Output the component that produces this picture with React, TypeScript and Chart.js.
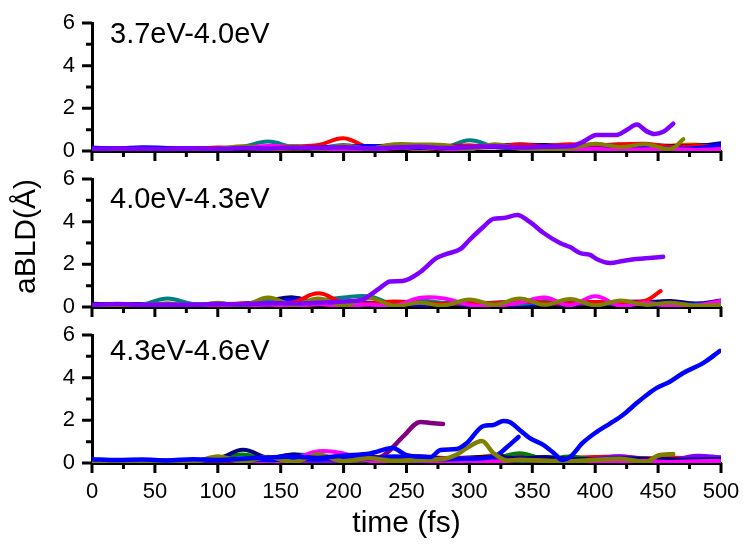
import React, { useEffect, useRef } from 'react';
import { Chart, registerables } from 'chart.js';

Chart.register(...registerables);

const FONT = "'Liberation Sans', Arial, sans-serif";

// ---- axis tick positions ----
const xMarkValues = [0, 25, 50, 75, 100, 125, 150, 175, 200, 225, 250, 275, 300, 325, 350, 375, 400, 425, 450, 475, 500];
const xMajorStep = 50;
const yMarkValues = [0, 1, 2, 3, 4, 5, 6];
const yMajorStep = 2;

// ---- common time grid (fs) ----
const T20 = [0, 20, 40, 60, 80, 100, 120, 140, 160, 180, 200, 220, 240, 260, 280, 300, 320, 340, 360, 380, 400, 420, 440, 460, 480, 500];

// ---- panel 1 : 3.7eV-4.0eV ----
const p1Wine = [0.06, 0.04, 0.08, 0.06, 0.05, 0.08, 0.10, 0.06, 0.12, 0.08, 0.14, 0.10, 0.12, 0.16, 0.10, 0.14, 0.18, 0.12, 0.20, 0.24, 0.30, 0.22, 0.18, 0.20, 0.16, 0.18];
const p1Orange = [0.04, 0.06, 0.05, 0.08, 0.06, 0.10, 0.08, 0.06, 0.10, 0.14, 0.08, 0.12, 0.18, 0.10, 0.16, 0.12, 0.22, 0.14, 0.20, 0.16, 0.24, 0.18, 0.12, 0.26, 0.30, 0.14];
const p1Black = [0.08, 0.10, 0.08, 0.10, 0.09, 0.12, 0.10, 0.14, 0.12, 0.18, 0.12, 0.20, 0.16, 0.22, 0.18, 0.25, 0.20, 0.26, 0.28, 0.22, 0.26, 0.30, 0.22, 0.24, 0.26, 0.30];
const p1Navy = [0.14, 0.12, 0.10, 0.12, 0.14, 0.10, 0.12, 0.18, 0.14, 0.12, 0.16, 0.20, 0.26, 0.18, 0.22, 0.20, 0.24, 0.30, 0.26, 0.22, 0.18, 0.20, 0.28, 0.24, 0.22, 0.36];
const p1Teal = [0.10, 0.12, 0.10, 0.14, 0.10, 0.12, 0.20, 0.44, 0.18, 0.14, 0.28, 0.14, 0.18, 0.24, 0.16, 0.50, 0.20, 0.14, 0.12, 0.16, 0.10, 0.14, 0.12, 0.10, 0.08, 0.10];
const p1Red = [0.12, 0.10, 0.14, 0.12, 0.10, 0.16, 0.14, 0.20, 0.22, 0.28, 0.60, 0.18, 0.28, 0.20, 0.24, 0.26, 0.22, 0.30, 0.24, 0.32, 0.26, 0.30, 0.34, 0.20, 0.24, 0.22];
const p1Blue = [0.16, 0.12, 0.18, 0.14, 0.12, 0.10, 0.14, 0.12, 0.18, 0.16, 0.20, 0.24, 0.20, 0.14, 0.22, 0.18, 0.20, 0.14, 0.22, 0.18, 0.12, 0.14, 0.16, 0.12, 0.14, 0.30];
const p1Magenta = [0.05, 0.08, 0.05, 0.10, 0.12, 0.08, 0.16, 0.24, 0.20, 0.12, 0.08, 0.06, 0.14, 0.24, 0.10, 0.12, 0.24, 0.14, 0.10, 0.06, 0.10, 0.05, 0.08, 0.10, 0.05, 0.08];
const p1OliveT = [0, 20, 40, 60, 80, 100, 120, 140, 160, 180, 200, 220, 240, 260, 280, 300, 320, 340, 360, 380, 400, 420, 440, 460, 470];
const p1Olive = [0.05, 0.06, 0.05, 0.08, 0.06, 0.10, 0.22, 0.10, 0.24, 0.08, 0.26, 0.12, 0.32, 0.30, 0.28, 0.08, 0.32, 0.10, 0.06, 0.12, 0.34, 0.18, 0.32, 0.10, 0.56];
const p1VioletT = [0, 20, 40, 60, 80, 100, 120, 140, 160, 180, 200, 220, 240, 260, 280, 300, 320, 340, 360, 380, 390, 401, 417, 425, 433, 441, 447, 454, 462];
const p1Violet = [0.10, 0.12, 0.10, 0.08, 0.12, 0.10, 0.14, 0.12, 0.16, 0.14, 0.18, 0.12, 0.16, 0.20, 0.14, 0.18, 0.22, 0.16, 0.20, 0.22, 0.42, 0.75, 0.75, 0.98, 1.24, 0.92, 0.80, 0.90, 1.28];

// ---- panel 2 : 4.0eV-4.3eV ----
const p2Purple = [0.05, 0.06, 0.08, 0.06, 0.10, 0.08, 0.12, 0.10, 0.14, 0.12, 0.10, 0.14, 0.16, 0.12, 0.18, 0.14, 0.20, 0.24, 0.16, 0.20, 0.18, 0.24, 0.26, 0.20, 0.14, 0.10];
const p2Orange = [0.04, 0.05, 0.04, 0.06, 0.08, 0.06, 0.10, 0.12, 0.08, 0.14, 0.10, 0.16, 0.12, 0.18, 0.14, 0.20, 0.16, 0.24, 0.18, 0.22, 0.20, 0.18, 0.14, 0.12, 0.10, 0.08];
const p2Black = [0.15, 0.12, 0.14, 0.10, 0.12, 0.10, 0.14, 0.12, 0.16, 0.14, 0.12, 0.16, 0.14, 0.18, 0.16, 0.14, 0.12, 0.16, 0.20, 0.18, 0.22, 0.10, 0.12, 0.20, 0.10, 0.08];
const p2Navy = [0.06, 0.08, 0.06, 0.10, 0.08, 0.12, 0.16, 0.30, 0.45, 0.20, 0.24, 0.20, 0.18, 0.22, 0.16, 0.20, 0.18, 0.14, 0.16, 0.20, 0.12, 0.18, 0.22, 0.28, 0.16, 0.30];
const p2Blue = [0.10, 0.08, 0.12, 0.10, 0.08, 0.14, 0.10, 0.12, 0.35, 0.18, 0.14, 0.16, 0.20, 0.10, 0.14, 0.12, 0.16, 0.10, 0.14, 0.12, 0.18, 0.14, 0.12, 0.10, 0.14, 0.12];
const p2Teal = [0.08, 0.10, 0.12, 0.40, 0.14, 0.16, 0.12, 0.30, 0.16, 0.30, 0.45, 0.50, 0.15, 0.30, 0.18, 0.16, 0.20, 0.14, 0.28, 0.18, 0.22, 0.14, 0.16, 0.12, 0.10, 0.14];
const p2RedT = [0, 20, 40, 60, 80, 100, 120, 140, 160, 180, 200, 220, 240, 260, 280, 300, 320, 340, 360, 380, 400, 420, 440, 452];
const p2Red = [0.06, 0.08, 0.05, 0.10, 0.08, 0.12, 0.16, 0.14, 0.22, 0.64, 0.20, 0.16, 0.26, 0.20, 0.14, 0.22, 0.18, 0.26, 0.20, 0.16, 0.24, 0.18, 0.30, 0.75];
const p2Magenta = [0.04, 0.06, 0.04, 0.08, 0.05, 0.10, 0.06, 0.12, 0.08, 0.14, 0.06, 0.12, 0.05, 0.42, 0.40, 0.10, 0.06, 0.20, 0.44, 0.08, 0.50, 0.06, 0.20, 0.04, 0.06, 0.30];
const p2Olive = [0.02, 0.02, 0.04, 0.18, 0.04, 0.20, 0.06, 0.45, 0.10, 0.40, 0.08, 0.42, 0.06, 0.20, 0.08, 0.35, 0.10, 0.40, 0.10, 0.38, 0.08, 0.30, 0.10, 0.20, 0.06, 0.10];
const p2VioletT = [0, 20, 40, 60, 80, 100, 120, 140, 160, 180, 200, 215, 222, 229, 237, 247, 261, 274, 282, 293, 300, 311, 319, 327, 338, 348, 359, 372, 380, 388, 396, 401, 412, 422, 433, 443, 454];
const p2Violet = [0.10, 0.14, 0.10, 0.12, 0.10, 0.14, 0.12, 0.18, 0.16, 0.20, 0.26, 0.35, 0.60, 0.90, 1.20, 1.22, 1.64, 2.30, 2.49, 2.72, 3.14, 3.75, 4.13, 4.17, 4.31, 3.99, 3.47, 3.00, 2.81, 2.53, 2.44, 2.25, 2.06, 2.16, 2.25, 2.30, 2.35];

// ---- panel 3 : 4.3eV-4.6eV ----
const p3Wine = [0.04, 0.05, 0.06, 0.04, 0.06, 0.08, 0.06, 0.10, 0.08, 0.12, 0.10, 0.14, 0.12, 0.10, 0.16, 0.14, 0.12, 0.18, 0.14, 0.16, 0.12, 0.18, 0.20, 0.16, 0.24, 0.26];
const p3Orange = [0.04, 0.06, 0.04, 0.05, 0.06, 0.08, 0.06, 0.10, 0.08, 0.12, 0.10, 0.14, 0.16, 0.12, 0.18, 0.22, 0.36, 0.20, 0.14, 0.12, 0.10, 0.08, 0.12, 0.10, 0.08, 0.10];
const p3Black = [0.10, 0.08, 0.06, 0.08, 0.10, 0.12, 0.10, 0.14, 0.12, 0.16, 0.14, 0.18, 0.22, 0.16, 0.20, 0.26, 0.30, 0.36, 0.24, 0.20, 0.18, 0.16, 0.20, 0.12, 0.14, 0.16];
const p3Red = [0.06, 0.05, 0.08, 0.06, 0.05, 0.10, 0.08, 0.14, 0.12, 0.22, 0.18, 0.26, 0.20, 0.30, 0.24, 0.22, 0.28, 0.26, 0.20, 0.24, 0.28, 0.30, 0.22, 0.26, 0.20, 0.24];
const p3Green = [0.05, 0.06, 0.08, 0.05, 0.10, 0.25, 0.40, 0.15, 0.12, 0.18, 0.10, 0.14, 0.12, 0.16, 0.10, 0.14, 0.20, 0.46, 0.18, 0.30, 0.14, 0.12, 0.10, 0.08, 0.10, 0.12];
const p3Teal = [0.08, 0.06, 0.10, 0.08, 0.06, 0.10, 0.08, 0.20, 0.40, 0.30, 0.12, 0.20, 0.16, 0.10, 0.14, 0.12, 0.18, 0.10, 0.14, 0.10, 0.16, 0.24, 0.20, 0.10, 0.18, 0.12];
const p3Violet = [0.02, 0.04, 0.03, 0.05, 0.04, 0.06, 0.08, 0.10, 0.12, 0.08, 0.10, 0.14, 0.20, 0.30, 0.16, 0.22, 0.18, 0.26, 0.12, 0.14, 0.20, 0.32, 0.18, 0.14, 0.34, 0.26];
const p3Navy = [0.12, 0.10, 0.12, 0.10, 0.14, 0.20, 0.62, 0.25, 0.40, 0.20, 0.35, 0.30, 0.25, 0.30, 0.20, 0.18, 0.30, 0.22, 0.28, 0.20, 0.18, 0.22, 0.20, 0.18, 0.16, 0.20];
const p3Magenta = [0.04, 0.05, 0.04, 0.06, 0.05, 0.10, 0.15, 0.08, 0.20, 0.55, 0.45, 0.10, 0.08, 0.12, 0.06, 0.10, 0.05, 0.14, 0.10, 0.06, 0.08, 0.06, 0.10, 0.05, 0.08, 0.10];
const p3PurpleT = [0, 20, 40, 60, 80, 100, 120, 140, 160, 180, 200, 220, 230, 237, 247, 261, 269, 279];
const p3Purple = [0.04, 0.06, 0.05, 0.08, 0.06, 0.10, 0.12, 0.16, 0.14, 0.20, 0.18, 0.22, 0.30, 0.61, 1.22, 1.92, 1.88, 1.83];
const p3Blue2T = [0, 20, 40, 60, 80, 100, 120, 140, 160, 180, 200, 220, 240, 260, 280, 300, 310, 322, 330, 339];
const p3Blue2 = [0.10, 0.12, 0.08, 0.10, 0.12, 0.16, 0.20, 0.14, 0.22, 0.18, 0.26, 0.20, 0.30, 0.22, 0.18, 0.20, 0.22, 0.37, 0.75, 1.22];
const p3OliveT = [0, 20, 40, 60, 80, 100, 120, 140, 160, 180, 200, 220, 240, 260, 280, 290, 298, 310, 319, 330, 340, 360, 380, 400, 420, 440, 450, 462];
const p3Olive = [0.05, 0.06, 0.04, 0.06, 0.05, 0.30, 0.06, 0.28, 0.05, 0.40, 0.08, 0.22, 0.10, 0.15, 0.20, 0.40, 0.70, 1.03, 0.47, 0.12, 0.15, 0.10, 0.08, 0.15, 0.20, 0.05, 0.35, 0.42];
const p3BlueT = [0, 20, 40, 60, 80, 100, 120, 140, 160, 180, 200, 221, 239, 250, 269, 277, 290, 298, 311, 319, 327, 332, 340, 348, 359, 367, 374, 380, 390, 401, 412, 422, 433, 441, 449, 459, 470, 486, 499];
const p3Blue = [0.18, 0.14, 0.16, 0.12, 0.18, 0.14, 0.20, 0.26, 0.30, 0.24, 0.35, 0.45, 0.70, 0.37, 0.28, 0.61, 0.66, 0.94, 1.73, 1.78, 1.97, 1.92, 1.55, 1.17, 0.84, 0.47, 0.14, 0.28, 0.94, 1.45, 1.86, 2.25, 2.81, 3.19, 3.52, 3.80, 4.22, 4.69, 5.25];

// ---- colours (Origin palette) ----
const C = {
  black: '#000000', red: '#FF0000', blue: '#0000FF', magenta: '#FF00FF', olive: '#808000',
  navy: '#000080', violet: '#8000FF', purple: '#800080', wine: '#800000', teal: '#008080',
  orange: '#FF8000', green: '#008000',
};

type Series = { t: number[]; v: number[]; color: string; hi?: boolean };

// listed bottom -> top
const panel1Series: Series[] = [
  { t: T20, v: p1Wine, color: C.wine }, { t: T20, v: p1Orange, color: C.orange },
  { t: T20, v: p1Black, color: C.black }, { t: T20, v: p1Navy, color: C.navy },
  { t: T20, v: p1Teal, color: C.teal }, { t: T20, v: p1Red, color: C.red },
  { t: T20, v: p1Blue, color: C.blue }, { t: T20, v: p1Magenta, color: C.magenta },
  { t: p1OliveT, v: p1Olive, color: C.olive }, { t: p1VioletT, v: p1Violet, color: C.violet, hi: true },
];
const panel2Series: Series[] = [
  { t: T20, v: p2Purple, color: C.purple }, { t: T20, v: p2Orange, color: C.orange },
  { t: T20, v: p2Black, color: C.black }, { t: T20, v: p2Navy, color: C.navy },
  { t: T20, v: p2Blue, color: C.blue }, { t: T20, v: p2Teal, color: C.teal },
  { t: p2RedT, v: p2Red, color: C.red }, { t: T20, v: p2Magenta, color: C.magenta },
  { t: T20, v: p2Olive, color: C.olive }, { t: p2VioletT, v: p2Violet, color: C.violet, hi: true },
];
const panel3Series: Series[] = [
  { t: T20, v: p3Wine, color: C.wine }, { t: T20, v: p3Orange, color: C.orange },
  { t: T20, v: p3Black, color: C.black }, { t: T20, v: p3Red, color: C.red },
  { t: T20, v: p3Green, color: C.green }, { t: T20, v: p3Teal, color: C.teal },
  { t: T20, v: p3Violet, color: C.violet }, { t: T20, v: p3Navy, color: C.navy },
  { t: T20, v: p3Magenta, color: C.magenta }, { t: p3PurpleT, v: p3Purple, color: C.purple, hi: true },
  { t: p3Blue2T, v: p3Blue2, color: C.blue, hi: true }, { t: p3OliveT, v: p3Olive, color: C.olive, hi: true },
  { t: p3BlueT, v: p3Blue, color: C.blue, hi: true },
];

const panelLabels = ['3.7eV-4.0eV', '4.0eV-4.3eV', '4.3eV-4.6eV'];

const axisMarksPlugin = {
  id: 'axisMarks',
  afterDraw(chart: any) {
    const { ctx, chartArea, scales } = chart;
    const x = scales.x, y = scales.y;
    ctx.save();
    ctx.strokeStyle = '#000';
    ctx.lineWidth = 3;
    ctx.lineCap = 'butt';
    ctx.beginPath();
    for (const v of xMarkValues) {
      const px = x.getPixelForValue(v);
      const len = v % xMajorStep === 0 ? 10 : 6;
      ctx.moveTo(px, chartArea.bottom);
      ctx.lineTo(px, chartArea.bottom + len);
    }
    for (const v of yMarkValues) {
      const py = y.getPixelForValue(v);
      const len = v % yMajorStep === 0 ? 10 : 6;
      ctx.moveTo(chartArea.left, py);
      ctx.lineTo(chartArea.left - len, py);
    }
    ctx.stroke();
    ctx.restore();
  },
};

const panelLabelPlugin = {
  id: 'panelLabel',
  afterDraw(chart: any, _args: any, opts: any) {
    const { ctx, chartArea } = chart;
    ctx.save();
    ctx.font = `${opts.size}px ${FONT}`;
    ctx.fillStyle = '#000';
    ctx.textAlign = 'left';
    ctx.textBaseline = 'alphabetic';
    ctx.fillText(opts.text, chartArea.left + opts.dx, chartArea.top + opts.dy);
    ctx.restore();
  },
};

type PanelCfg = {
  label: string; series: Series[]; top: number; height: number; padTop: number;
  labelDy: number; showX: boolean; showYTitle: boolean;
};

const panels: PanelCfg[] = [
  { label: panelLabels[0], series: panel1Series, top: 0, height: 170, padTop: 23, labelDy: 20, showX: false, showYTitle: false },
  { label: panelLabels[1], series: panel2Series, top: 159, height: 170, padTop: 20, labelDy: 29, showX: false, showYTitle: true },
  { label: panelLabels[2], series: panel3Series, top: 315, height: 229, padTop: 20, labelDy: 25, showX: true, showYTitle: false },
];

const PLOT_H = 128;
const CLEAR = 'rgba(0,0,0,0)';

function Panel({ cfg }: { cfg: PanelCfg }) {
  const ref = useRef<HTMLCanvasElement>(null);
  useEffect(() => {
    const xH = cfg.height - cfg.padTop - PLOT_H;
    const datasets = cfg.series.map((s) => ({
      data: s.v.map((y, i) => ({ x: s.t[i], y })),
      borderColor: s.color,
      backgroundColor: s.color,
      borderWidth: s.hi ? 4.5 : 4,
      pointRadius: 0,
      pointHoverRadius: 0,
      tension: s.hi ? 0 : 0.4,
      cubicInterpolationMode: s.hi ? 'monotone' : 'default',
      borderJoinStyle: 'round',
      borderCapStyle: 'round',
      fill: false,
    })).reverse();
    const chart = new Chart(ref.current as HTMLCanvasElement, {
      type: 'line',
      data: { datasets } as any,
      plugins: [axisMarksPlugin, panelLabelPlugin],
      options: {
        responsive: false,
        animation: false,
        events: [],
        layout: { padding: { top: cfg.padTop, right: 22, left: 0, bottom: 0 } },
        plugins: {
          legend: { display: false },
          tooltip: { enabled: false },
          panelLabel: { text: cfg.label, dx: 18, dy: cfg.labelDy, size: 29 },
        } as any,
        scales: {
          x: {
            type: 'linear',
            min: 0,
            max: 500,
            position: 'bottom',
            afterFit: (s: any) => { s.height = xH; },
            grid: { display: true, drawOnChartArea: false, drawTicks: true, tickLength: 16, tickColor: CLEAR, color: CLEAR },
            border: { display: true, color: '#000', width: 3 },
            ticks: {
              display: cfg.showX, stepSize: 50, padding: 0, color: '#000',
              font: { family: FONT, size: 22 }, maxRotation: 0, autoSkip: false,
            },
            title: {
              display: cfg.showX, text: 'time (fs)', color: '#000',
              font: { family: FONT, size: 30 }, padding: { top: 0, bottom: 2 },
            },
          },
          y: {
            type: 'linear',
            min: 0,
            max: 6,
            afterFit: (s: any) => { s.width = 92; },
            grid: { display: true, drawOnChartArea: false, drawTicks: true, tickLength: 17, tickColor: CLEAR, color: CLEAR },
            border: { display: true, color: '#000', width: 3 },
            ticks: { stepSize: 2, padding: 0, color: '#000', font: { family: FONT, size: 22 } },
            title: {
              display: cfg.showYTitle, text: 'aBLD(Å)', color: '#000', align: 'end',
              font: { family: FONT, size: 30 }, padding: { top: 9, bottom: 0 },
            },
          },
        },
      } as any,
    });
    return () => chart.destroy();
  }, [cfg]);
  return (
    <canvas
      ref={ref}
      width={743}
      height={cfg.height}
      style={{ position: 'absolute', left: 0, top: cfg.top, display: 'block' }}
    />
  );
}

export default function App() {
  return (
    <div style={{ position: 'absolute', left: 0, top: 0, width: 743, height: 544, background: '#fff', overflow: 'hidden' }}>
      {panels.map((p, i) => (
        <Panel key={i} cfg={p} />
      ))}
    </div>
  );
}
